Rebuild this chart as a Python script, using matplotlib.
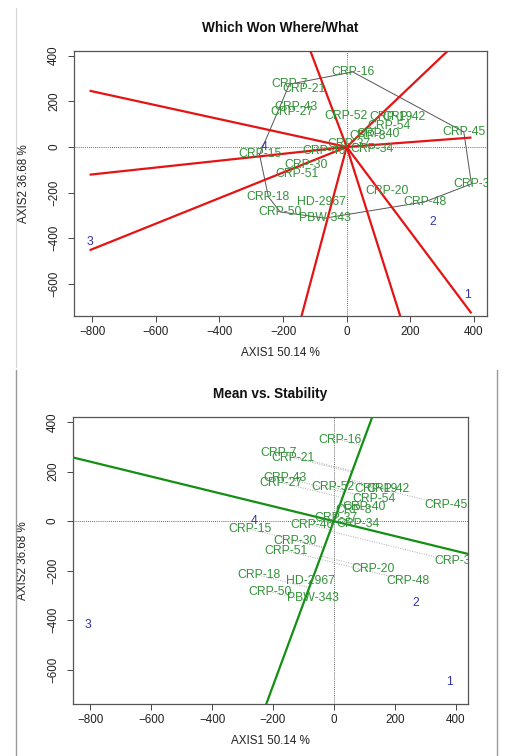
import numpy as np
import matplotlib
matplotlib.use("Agg")
import matplotlib.pyplot as plt
from matplotlib.lines import Line2D

plt.rcParams['font.family'] = ['Liberation Sans', 'DejaVu Sans']

# ---------------- data ----------------
genotypes = ["CRP-16", "CRP-7", "CRP-21", "CRP-43", "CRP-27", "CRP-52", "CRP-19",
             "CRP-42", "CRP-54", "CRP-40", "CRP-8", "CRP-45", "CRP-37", "CRP-34",
             "CRP-46", "CRP-15", "CRP-30", "CRP-51", "CRP-18", "HD-2967", "CRP-50",
             "PBW-343", "CRP-20", "CRP-48", "CRP-3"]
gen_x = [19, -180, -133, -159, -172, -2, 140, 179, 133, 98, 66, 368, 6, 79,
         -72, -274, -127, -156, -246, -78, -209, -68, 128, 245, 392]
gen_y = [329, 275, 256, 174, 155, 136, 130, 130, 90, 58, 47, 66, 14, -11,
         -17, -33, -80, -120, -219, -241, -285, -312, -192, -241, -162]

environments = ["1", "2", "3", "4"]
env_x = [380, 270, -808, -261]
env_y = [-648, -329, -418, 0]

titles = ["Which Won Where/What", "Mean vs. Stability"]
xlabel = "AXIS1 50.14 %"
ylabel = "AXIS2 36.68 %"
xticks = [-800, -600, -400, -200, 0, 200, 400]
yticks = [-600, -400, -200, 0, 200, 400]
xlim = (-856, 440)
ylim = (-740, 422)

GREEN = "#33923a"
BLUE = "#3333aa"
FS = 8.4
FS_LAB = 8.8

gx = np.array(gen_x, float)
gy = np.array(gen_y, float)
ex = np.array(env_x, float)
ey = np.array(env_y, float)


def convex_hull(xs, ys):
    pts = sorted(set(zip(xs, ys)))
    def cross(o, a, b):
        return (a[0] - o[0]) * (b[1] - o[1]) - (a[1] - o[1]) * (b[0] - o[0])
    lower, upper = [], []
    for p in pts:
        while len(lower) >= 2 and cross(lower[-2], lower[-1], p) <= 0:
            lower.pop()
        lower.append(p)
    for p in reversed(pts):
        while len(upper) >= 2 and cross(upper[-2], upper[-1], p) <= 0:
            upper.pop()
        upper.append(p)
    return lower[:-1] + upper[:-1]


def base_axes(ax, title):
    ax.set_xlim(*xlim)
    ax.set_ylim(*ylim)
    ax.set_xticks(xticks)
    ax.set_yticks(yticks)
    ax.tick_params(direction='out', length=4.3, width=0.7, color='#444444',
                   labelsize=FS, labelcolor='#222222')
    ax.tick_params(axis='x', pad=2.8)
    ax.tick_params(axis='y', pad=6.0)
    for lab in ax.get_yticklabels():
        lab.set_rotation(90)
        lab.set_va('center')
    for s in ax.spines.values():
        s.set_color('#555555')
        s.set_linewidth(0.9)
    ax.axhline(0, color='#333333', lw=0.6, ls=(0, (1, 1.5)), zorder=1)
    ax.axvline(0, color='#333333', lw=0.6, ls=(0, (1, 1.5)), zorder=1)
    bb = ax.get_position()
    hpx = bb.height * 756
    wpx = bb.width * 514
    ax.text(0.5, 1 + 22.5 / hpx, title, transform=ax.transAxes, ha='center',
            va='center', fontsize=9.8, fontweight='bold', color='#111111')
    ax.text(0.5, -37 / hpx, xlabel, transform=ax.transAxes, ha='center',
            va='center', fontsize=FS, color='#222222')
    ax.text(-50 / wpx, 0.5, ylabel, transform=ax.transAxes, ha='center',
            va='center', rotation=90, fontsize=FS, color='#222222')


def labels(ax):
    for name, x, y in zip(genotypes, gx, gy):
        ax.text(x, y, name, color=GREEN, fontsize=FS_LAB, ha='center', va='center',
                clip_on=True, zorder=4)
    for name, x, y in zip(environments, ex, ey):
        ax.text(x, y, name, color=BLUE, fontsize=FS_LAB, ha='center', va='center',
                clip_on=True, zorder=4)


fig = plt.figure(figsize=(5.14, 7.56), dpi=100)

# ---------------- panel 1: which won where ----------------
ax1 = fig.add_axes([0.1446, 0.5824, 0.8023, 0.3505])
base_axes(ax1, titles[0])
hull = convex_hull(gen_x, gen_y)
hx = [p[0] for p in hull] + [hull[0][0]]
hy = [p[1] for p in hull] + [hull[0][1]]
ax1.plot(hx, hy, color='#555555', lw=0.7, zorder=2)
allx = np.concatenate([gx, ex])
xmin, xmax = allx.min(), allx.max()
for i in range(len(hull)):
    (x1, y1), (x2, y2) = hull[i], hull[(i + 1) % len(hull)]
    m = (y1 - y2) / (x1 - x2)
    mperp = -1.0 / m
    c2 = y2 - m * x2
    xint = -c2 / (m - mperp)
    xend = xmin if xint < 0 else xmax
    ax1.plot([0, xend], [0, mperp * xend], color='#e41414', lw=1.6, zorder=3,
             solid_capstyle='butt')
labels(ax1)

# ---------------- panel 2: mean vs stability ----------------
ax2 = fig.add_axes([0.1426, 0.0684, 0.7673, 0.3804])
base_axes(ax2, titles[1])
med1, med2 = ex.mean(), ey.mean()
xx = np.array([-2000, 2000])
ax2.plot(xx, med2 / med1 * xx, color='#139013', lw=1.6, zorder=3)
ax2.plot(xx, -med1 / med2 * xx, color='#139013', lw=1.6, zorder=3)
d = np.array([med1, med2]) / np.hypot(med1, med2)
for x, y in zip(gx, gy):
    t = x * d[0] + y * d[1]
    ax2.plot([x, t * d[0]], [y, t * d[1]], color='#aaaaaa', lw=0.7,
             ls=(0, (1, 1.5)), zorder=2)
labels(ax2)

# panel frames
fig.add_artist(Line2D([15.7 / 514, 15.7 / 514], [1 - 8 / 756, 1 - 367 / 756],
                      transform=fig.transFigure, color='#d4d4d4', lw=0.8))
for xp in (16.0, 497.0):
    fig.add_artist(Line2D([xp / 514, xp / 514], [1 - 370 / 756, 0],
                          transform=fig.transFigure, color='#9a9a9a', lw=1.0))

fig.savefig("out.png", dpi=100)
